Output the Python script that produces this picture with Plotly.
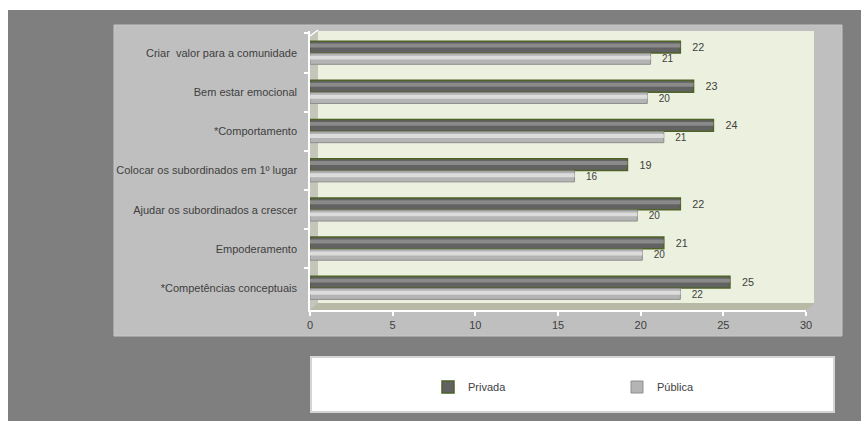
import plotly.graph_objects as go

categories = [
    "Criar  valor para a comunidade",
    "Bem estar emocional",
    "*Comportamento",
    "Colocar os subordinados em 1º lugar",
    "Ajudar os subordinados a crescer",
    "Empoderamento",
    "*Competências conceptuais",
]
privada = [22.4, 23.2, 24.4, 19.2, 22.4, 21.4, 25.4]
publica = [20.6, 20.4, 21.4, 16.0, 19.8, 20.1, 22.4]
series_names = ["Privada", "Pública"]
x_ticks = [0, 5, 10, 15, 20, 25, 30]

W, H = 861, 421
L, R, T, B = 310, 55, 31, 111
PW, PH = W - L - R, H - T - B


def px(x):
    return (x - L) / PW


def py(y):
    return (H - B - y) / PH


FONT = "Liberation Sans, Arial"
TXT = "#404040"
FS = 11

fig = go.Figure()
# main bars
fig.add_trace(go.Bar(
    y=categories, x=privada, name=series_names[0], orientation="h",
    width=0.30, offset=-0.30,
    marker=dict(color="#626262", line=dict(color="#4f6228", width=1.5)),
    texttemplate="   %{x:.0f}", textposition="outside", cliponaxis=False,
    textfont=dict(color=TXT, size=FS, family=FONT),
))
fig.add_trace(go.Bar(
    y=categories, x=publica, name=series_names[1], orientation="h",
    width=0.28, offset=0.01,
    marker=dict(color="#b4b4b4", line=dict(color="#8e8e8e", width=1)),
    texttemplate="   %{x:.0f}", textposition="outside", cliponaxis=False,
    textfont=dict(color=TXT, size=FS, family=FONT),
))
# cylinder highlights (same data, styling only)
fig.add_trace(go.Bar(
    y=categories, x=privada, orientation="h", showlegend=False, hoverinfo="skip",
    width=0.10, offset=-0.24,
    marker=dict(color="#8a8a8a", line=dict(width=0)),
))
fig.add_trace(go.Bar(
    y=categories, x=publica, orientation="h", showlegend=False, hoverinfo="skip",
    width=0.10, offset=0.07,
    marker=dict(color="#dcdcdc", line=dict(width=0)),
))

shapes = []
shapes.append(dict(type="rect", xref="paper", yref="paper", x0=px(8), x1=px(861), y0=py(10), y1=py(421),
                   fillcolor="#7f7f7f", line=dict(width=0), layer="below"))
shapes.append(dict(type="rect", xref="paper", yref="paper", x0=px(114), x1=px(842), y0=py(25), y1=py(336),
                   fillcolor="#bfbfbf", line=dict(color="#c8c8c8", width=1), layer="below"))
shapes.append(dict(type="rect", xref="paper", yref="paper", x0=px(318), x1=px(814), y0=py(31), y1=py(303),
                   fillcolor="#ebf1de", line=dict(width=0), layer="below"))
shapes.append(dict(type="path", xref="paper", yref="paper",
                   path=f"M {px(310)},{py(36)} L {px(318)},{py(31)} L {px(318)},{py(303)} L {px(310)},{py(310)} Z",
                   fillcolor="#c4c6ba", line=dict(width=0), layer="below"))
shapes.append(dict(type="path", xref="paper", yref="paper",
                   path=f"M {px(310)},{py(310)} L {px(318)},{py(303)} L {px(815)},{py(303)} L {px(807)},{py(310)} Z",
                   fillcolor="#b8baa7", line=dict(width=0), layer="below"))
shapes.append(dict(type="line", xref="paper", yref="paper", x0=px(310), x1=px(318), y0=py(36), y1=py(30),
                   line=dict(color="white", width=1.5), layer="below"))
shapes.append(dict(type="rect", xref="paper", yref="paper", x0=px(311), x1=px(834), y0=py(357), y1=py(412),
                   fillcolor="white", line=dict(color="#d4d4d4", width=2), layer="below"))

fig.update_layout(
    width=W, height=H,
    margin=dict(l=L, r=R, t=T, b=B, pad=0),
    paper_bgcolor="white", plot_bgcolor="rgba(0,0,0,0)",
    barmode="overlay",
    font=dict(family=FONT, size=FS, color=TXT),
    shapes=shapes,
    showlegend=True,
    legend=dict(orientation="h", x=px(428), xanchor="left", y=py(387), yanchor="middle",
                bgcolor="rgba(0,0,0,0)", entrywidth=144, entrywidthmode="pixels",
                font=dict(family=FONT, size=FS, color=TXT), traceorder="normal"),
)
fig.update_xaxes(range=[0, 30], tickvals=x_ticks, showgrid=False, zeroline=False,
                 showline=True, linecolor="white", linewidth=1.5,
                 ticks="outside", ticklen=4, tickcolor="white", tickwidth=1.5,
                 tickfont=dict(size=FS, color=TXT, family=FONT))
fig.update_yaxes(autorange=False, range=[6.56, -0.56], showgrid=False, zeroline=False,
                 showline=True, linecolor="white", linewidth=1.5,
                 ticks="outside", ticklen=4, tickcolor="white", tickwidth=1.5,
                 tickson="boundaries", ticklabelstandoff=9,
                 tickfont=dict(size=FS, color=TXT, family=FONT))

fig.write_html("out.html")
